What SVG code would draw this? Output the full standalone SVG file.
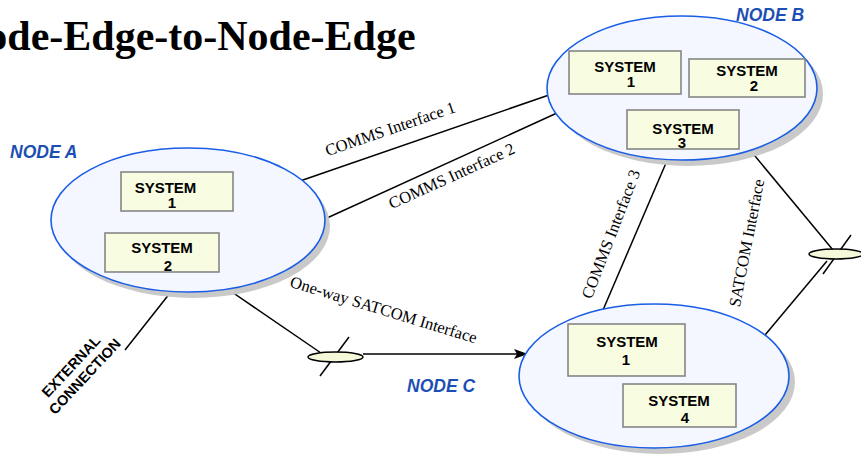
<svg xmlns="http://www.w3.org/2000/svg" width="861" height="454" viewBox="0 0 861 454">
  <style>
    .shadow { fill: #c9c9c9; }
    .node { fill: #f4f7ff; stroke: #1a5ee6; stroke-width: 1.6; }
    .sys { fill: #f8fce1; stroke: #858585; stroke-width: 1.6; }
    .sysText { font-family: "Liberation Sans", Arial, sans-serif; font-weight: bold; font-size: 15px; fill: #000; text-anchor: middle; }
    .nodeLabel { font-family: "Liberation Sans", Arial, sans-serif; font-weight: bold; font-style: italic; font-size: 17.5px; fill: #1c4fb4; }
    .link { stroke: #000; stroke-width: 1.5; fill: none; }
    .linkLabel { font-family: "Liberation Serif", "Times New Roman", serif; font-size: 16.5px; fill: #000; text-anchor: middle; }
    .ext { font-family: "Liberation Sans", Arial, sans-serif; font-weight: bold; font-size: 14.5px; fill: #000; text-anchor: middle; }
    .coupler { fill: #f5f9da; stroke: #000; stroke-width: 1.5; }
    .title { font-family: "Liberation Serif", "Times New Roman", serif; font-weight: bold; font-size: 42px; fill: #000; }
  </style>
  <defs>
    <marker id="arrow" viewBox="0 0 14 10" refX="13" refY="5" markerWidth="14" markerHeight="10" markerUnits="userSpaceOnUse" orient="auto">
      <path d="M0,0 L14,5 L0,10 L3,5 Z" fill="#000"/>
    </marker>
  </defs>

  <rect width="861" height="454" fill="#fff"/>

  <text class="title" x="-44" y="50">Node-Edge-to-Node-Edge</text>

  <!-- connectors -->
  <g id="connectors">
    <line class="link" x1="300" y1="181" x2="549" y2="95"/>
    <line class="link" x1="327" y1="218" x2="557" y2="113"/>
    <line class="link" x1="666" y1="163" x2="603" y2="310"/>
    <line class="link" x1="750" y1="150" x2="833" y2="250"/>
    <line class="link" x1="827" y1="261" x2="765" y2="335"/>
    <line class="link" x1="851" y1="235" x2="823" y2="274"/>
    <ellipse class="coupler" cx="836" cy="254" rx="27" ry="5"/>
    <line class="link" x1="170" y1="293" x2="125" y2="350"/>
    <line class="link" x1="229" y1="290" x2="321" y2="353"/>
    <line class="link" x1="349" y1="337" x2="320" y2="376"/>
    <ellipse class="coupler" cx="335.5" cy="357" rx="27.5" ry="5"/>
    <line class="link" x1="363" y1="354" x2="527" y2="354" marker-end="url(#arrow)"/>

    <text class="linkLabel" transform="translate(392,134) rotate(-19)">COMMS Interface 1</text>
    <text class="linkLabel" transform="translate(454,181) rotate(-24.5)">COMMS Interface 2</text>
    <text class="linkLabel" transform="translate(616,236) rotate(-69)">COMMS Interface 3</text>
    <text class="linkLabel" transform="translate(752,244) rotate(-79)">SATCOM Interface</text>
    <text class="linkLabel" transform="translate(382,315) rotate(17)">One-way SATCOM Interface</text>
    <g transform="translate(79,371) rotate(-47)">
      <text class="ext" x="-2" y="-4">EXTERNAL</text>
      <text class="ext" x="0" y="13">CONNECTION</text>
    </g>
  </g>

  <!-- Node A -->
  <g id="nodeA">
    <ellipse class="shadow" cx="193" cy="226" rx="137" ry="72"/>
    <ellipse class="node" cx="188" cy="220" rx="137" ry="72"/>
    <text class="nodeLabel" x="10" y="158">NODE A</text>
    <g id="nodeA-sys1">
      <rect class="sys" x="121" y="172" width="112" height="39"/>
      <text class="sysText" x="165.5" y="193">SYSTEM</text>
      <text class="sysText" x="172" y="208">1</text>
    </g>
    <g id="nodeA-sys2">
      <rect class="sys" x="105" y="233" width="114" height="39"/>
      <text class="sysText" x="162" y="253">SYSTEM</text>
      <text class="sysText" x="168" y="271">2</text>
    </g>
  </g>

  <!-- Node B -->
  <g id="nodeB">
    <ellipse class="shadow" cx="688" cy="94" rx="135" ry="72"/>
    <ellipse class="node" cx="682" cy="88" rx="135" ry="72"/>
    <text class="nodeLabel" x="736" y="21">NODE B</text>
    <g id="nodeB-sys1">
      <rect class="sys" x="569" y="51" width="112" height="43"/>
      <text class="sysText" x="625" y="72">SYSTEM</text>
      <text class="sysText" x="631" y="87">1</text>
    </g>
    <g id="nodeB-sys2">
      <rect class="sys" x="689" y="59" width="116" height="38"/>
      <text class="sysText" x="747" y="76">SYSTEM</text>
      <text class="sysText" x="754" y="91">2</text>
    </g>
    <g id="nodeB-sys3">
      <rect class="sys" x="627" y="110" width="112" height="39"/>
      <text class="sysText" x="683" y="134">SYSTEM</text>
      <text class="sysText" x="682" y="148">3</text>
    </g>
  </g>

  <!-- Node C -->
  <g id="nodeC">
    <ellipse class="shadow" cx="660" cy="382" rx="135" ry="72"/>
    <ellipse class="node" cx="654" cy="376" rx="135" ry="72"/>
    <text class="nodeLabel" x="407" y="392">NODE C</text>
    <g id="nodeC-sys1">
      <rect class="sys" x="568" y="324" width="117" height="52"/>
      <text class="sysText" x="627" y="347">SYSTEM</text>
      <text class="sysText" x="626" y="365">1</text>
    </g>
    <g id="nodeC-sys4">
      <rect class="sys" x="623" y="384" width="113" height="43"/>
      <text class="sysText" x="679" y="406">SYSTEM</text>
      <text class="sysText" x="685" y="423">4</text>
    </g>
  </g>
</svg>
